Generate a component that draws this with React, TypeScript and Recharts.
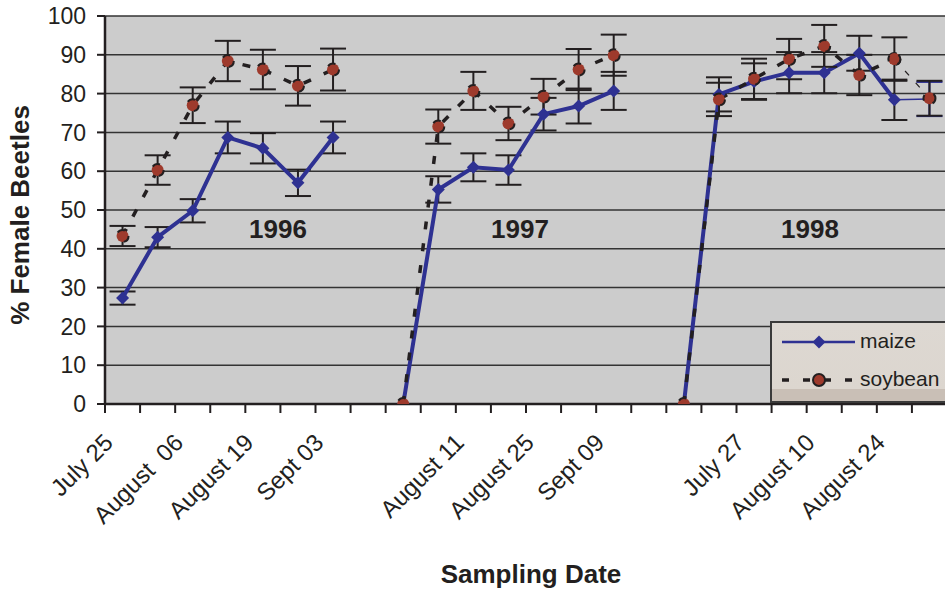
import React from 'react';
import {
  LineChart,
  Line,
  XAxis,
  YAxis,
  CartesianGrid,
  ErrorBar,
  Legend,
} from 'recharts';

// every other sampling date is labelled on the axis, as in the original
const dateLabels = [
  'July 25', '', 'August  06', '', 'August 19', '', 'Sept 03', '',
  '', '', 'August 11', '', 'August 25', '', 'Sept 09', '',
  '', '', 'July 27', '', 'August 10', '', 'August 24', '',
];

const maize = [
  27.3, 43.0, 49.8, 68.7, 65.9, 57.0, 68.7, null,
  0, 55.3, 61.0, 60.3, 74.7, 76.8, 80.7, null,
  0, 79.8, 83.1, 85.4, 85.4, 90.4, 78.4, 78.6,
];
const maizeErr = [
  1.7, 2.6, 3.0, 4.1, 3.9, 3.4, 4.1, null,
  null, 3.4, 3.6, 3.8, 4.2, 4.5, 4.9, null,
  null, 4.4, 4.7, 5.3, 5.3, 4.5, 5.2, 4.4,
];

const soybean = [
  43.3, 60.3, 77.0, 88.4, 86.2, 82.0, 86.2, null,
  0, 71.5, 80.7, 72.3, 79.2, 86.2, 89.9, null,
  0, 78.5, 83.8, 88.9, 92.3, 84.8, 88.9, 78.8,
];
const soybeanErr = [
  2.6, 3.8, 4.6, 5.2, 5.1, 5.1, 5.4, null,
  null, 4.4, 4.9, 4.3, 4.6, 5.3, 5.3, null,
  null, 4.3, 5.2, 5.2, 5.4, 5.2, 5.6, 4.5,
];

const yTicks = [0, 10, 20, 30, 40, 50, 60, 70, 80, 90, 100];

const BLUE = '#2e3192';
const RED = '#9e3a2c';
const INK = '#231f20';
const FONT = '"Liberation Sans", Arial, sans-serif';

// the last segment of each series is drawn thin in the original
const last = dateLabels.length - 1;
const data = dateLabels.map((_, i) => ({
  idx: i,
  maize: i < last ? maize[i] : null,
  maizeErr: i < last ? maizeErr[i] : null,
  maizeTail: i >= last - 1 ? maize[i] : null,
  maizeTailErr: i === last ? maizeErr[i] : null,
  soybean: i < last ? soybean[i] : null,
  soybeanErr: i < last ? soybeanErr[i] : null,
  soybeanTail: i >= last - 1 ? soybean[i] : null,
  soybeanTailErr: i === last ? soybeanErr[i] : null,
}));

const DateTick = (props: any) => {
  const { x, y, payload } = props;
  const half = payload?.offset || 17.5;
  const label = dateLabels[payload.value];
  const ax = x - 8;
  const ay = y + 40;
  return (
    <g>
      <line x1={x - half} x2={x - half} y1={y} y2={y + 9} stroke={INK} strokeWidth={2} />
      {label ? (
        <text
          x={ax}
          y={ay}
          textAnchor="end"
          transform={`rotate(-45, ${ax}, ${ay})`}
          fill={INK}
          fontSize={24}
          fontFamily={FONT}
          style={{ whiteSpace: 'pre' }}
        >
          {label}
        </text>
      ) : null}
    </g>
  );
};

const Diamond = (props: any) => {
  const { cx, cy, index } = props;
  if (cx == null || cy == null || props.value == null) return <g key={`d-${index}`} />;
  const s = 6.5;
  return (
    <path
      key={`d-${index}`}
      d={`M${cx},${cy - s} L${cx + s},${cy} L${cx},${cy + s} L${cx - s},${cy} Z`}
      fill={BLUE}
    />
  );
};

const soyDot = { r: 6, fill: RED, stroke: INK, strokeWidth: 2 };

const LegendBox = () => (
  <div
    style={{
      position: 'relative',
      width: 185,
      height: 82,
      boxSizing: 'border-box',
      border: '2px solid #3a3a3a',
      background: 'linear-gradient(#ddd8d2 0%, #dcd6cf 84%, #c9bfb6 84%, #c9bfb6 100%)',
      fontFamily: FONT,
      fontSize: 21,
      color: INK,
    }}
  >
    <svg width={80} height={20} style={{ position: 'absolute', left: 8, top: 9 }}>
      <line x1={2} x2={75} y1={10} y2={10} stroke={BLUE} strokeWidth={2.5} />
      <path d="M39,3.5 L45.5,10 L39,16.5 L32.5,10 Z" fill={BLUE} />
    </svg>
    <div style={{ position: 'absolute', left: 88, top: 6, lineHeight: '24px' }}>maize</div>
    <svg width={80} height={20} style={{ position: 'absolute', left: 8, top: 47 }}>
      <line x1={2} x2={75} y1={10} y2={10} stroke={INK} strokeWidth={3.5} strokeDasharray="7 14" />
      <circle cx={39} cy={10} r={6} fill={RED} stroke={INK} strokeWidth={2} />
    </svg>
    <div style={{ position: 'absolute', left: 88, top: 44, lineHeight: '24px' }}>soybean</div>
  </div>
);

export default function App() {
  return (
    <div
      style={{
        position: 'absolute',
        left: 0,
        top: 0,
        width: 945,
        height: 593,
        overflow: 'hidden',
        background: '#fff',
      }}
    >
      <LineChart
        width={947}
        height={593}
        data={data}
        margin={{ top: 16, right: 0, bottom: 0, left: 0 }}
      >
        <CartesianGrid
          vertical={false}
          fill="#cccccc"
          stroke="#333333"
          strokeWidth={1.5}
          fillOpacity={1}
        />
        <XAxis
          dataKey="idx"
          type="category"
          scale="band"
          interval={0}
          height={189}
          tickLine={false}
          tickSize={0}
          tickMargin={0}
          axisLine={{ stroke: INK, strokeWidth: 2.5 }}
          tick={<DateTick />}
        />
        <YAxis
          width={105}
          domain={[0, 100]}
          ticks={yTicks}
          allowDataOverflow
          interval={0}
          tickSize={8}
          tickMargin={11}
          axisLine={{ stroke: INK, strokeWidth: 2.5 }}
          tickLine={{ stroke: INK, strokeWidth: 2 }}
          tick={{ fill: INK, fontSize: 23, fontFamily: FONT }}
        />
        <Legend
          layout="vertical"
          align="center"
          verticalAlign="middle"
          wrapperStyle={{ left: 770, top: 321, width: 185, height: 82 }}
          content={() => <LegendBox />}
        />
        <Line
          dataKey="maize"
          name="maize"
          stroke={BLUE}
          strokeWidth={4}
          dot={<Diamond />}
          activeDot={false}
          connectNulls={false}
          isAnimationActive={false}
        >
          <ErrorBar dataKey="maizeErr" direction="y" width={13} stroke={INK} strokeWidth={2} isAnimationActive={false} />
        </Line>
        <Line
          dataKey="maizeTail"
          stroke={BLUE}
          strokeWidth={1.5}
          dot={false}
          activeDot={false}
          legendType="none"
          isAnimationActive={false}
        >
          <ErrorBar dataKey="maizeTailErr" direction="y" width={13} stroke={BLUE} strokeWidth={2} isAnimationActive={false} />
        </Line>
        <Line
          dataKey="soybean"
          name="soybean"
          stroke={INK}
          strokeWidth={3.5}
          strokeDasharray="8 14"
          dot={soyDot}
          activeDot={false}
          connectNulls={false}
          isAnimationActive={false}
        >
          <ErrorBar dataKey="soybeanErr" direction="y" width={13} stroke={INK} strokeWidth={2} isAnimationActive={false} />
        </Line>
        <Line
          dataKey="soybeanTail"
          stroke={INK}
          strokeWidth={1.2}
          strokeDasharray="6 10"
          dot={soyDot}
          activeDot={false}
          legendType="none"
          isAnimationActive={false}
        >
          <ErrorBar dataKey="soybeanTailErr" direction="y" width={13} stroke={INK} strokeWidth={2} isAnimationActive={false} />
        </Line>
      </LineChart>

      <svg
        width={945}
        height={593}
        style={{ position: 'absolute', left: 0, top: 0, pointerEvents: 'none' }}
        fontFamily={FONT}
        fontWeight="bold"
        fontSize={26}
        fill={INK}
      >
        <text x={278} y={238} textAnchor="middle">1996</text>
        <text x={520} y={238} textAnchor="middle">1997</text>
        <text x={810} y={238} textAnchor="middle">1998</text>
        <text x={531} y={583} textAnchor="middle">Sampling Date</text>
        <text x={29} y={215} textAnchor="middle" transform="rotate(-90, 29, 215)">
          % Female Beetles
        </text>
      </svg>
    </div>
  );
}
